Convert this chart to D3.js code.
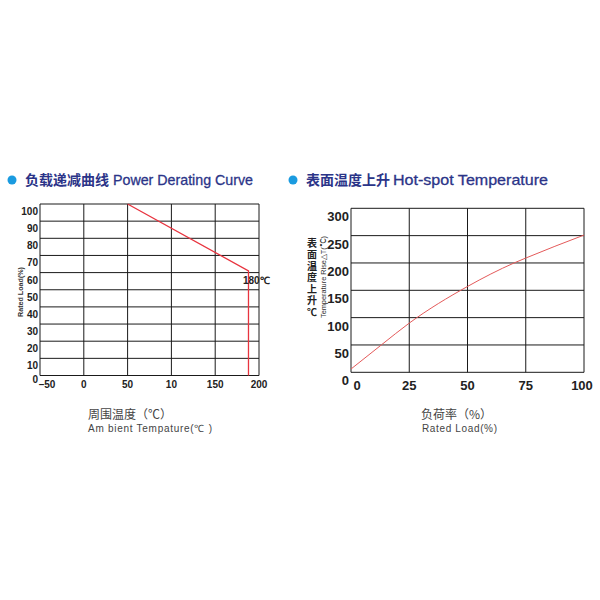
<!DOCTYPE html>
<html>
<head>
<meta charset="utf-8">
<script src="https://cdn.jsdelivr.net/npm/d3@7"></script>
<style>
  body { margin: 0; background: #fff; }
  svg text { font-family: "Liberation Sans", Arial, sans-serif; }
</style>
</head>
<body>
<svg id="chart" width="600" height="600"></svg>
<script>
// left chart: power derating
var deratingXTicks = [-50, 0, 50, 100, 150, 200];
var deratingXLabels = ["–50", "0", "50", "10", "150", "200"];
var deratingYTicks = [0, 10, 20, 30, 40, 50, 60, 70, 80, 90, 100];
var deratingCurve = [[50, 100], [188, 61], [188, 0]];
var deratingMark = "180℃";

// right chart: hot-spot temperature rise
var hotXTicks = [0, 25, 50, 75, 100];
var hotYTicks = [0, 50, 100, 150, 200, 250, 300];
var hotCurve = [[0, 6], [13, 50], [25, 90], [50, 157], [70, 200], [75, 209], [100, 251]];

var svg = d3.select("#chart");
var navy = "#2b3488";
var blue = "#1a9be0";

function drawTitle(x, cn, en, enX, enLen) {
    svg.append("circle").attr("cx", x).attr("cy", 180).attr("r", 4.5).attr("fill", blue);
    svg.append("text").attr("x", x + 13).attr("y", 185)
        .attr("font-size", 14).attr("font-weight", "bold").attr("fill", navy)
        .style("font-family", "'Noto Sans CJK SC', sans-serif").text(cn);
    svg.append("text").attr("x", enX).attr("y", 185)
        .attr("font-size", 15).attr("fill", navy)
        .attr("stroke", navy).attr("stroke-width", 0.3)
        .attr("textLength", enLen).attr("lengthAdjust", "spacingAndGlyphs").text(en);
}

drawTitle(12, "负载递减曲线", "Power Derating Curve", 113, 140);
drawTitle(293, "表面温度上升", "Hot-spot Temperature", 393, 155);

// ---------- left chart ----------
var x1 = d3.scaleLinear().domain([-50, 200]).range([40, 259]);
var y1 = d3.scaleLinear().domain([0, 100]).range([375.5, 204]);
var g1 = svg.append("g");

g1.selectAll("line.v").data(deratingXTicks).enter().append("line")
    .attr("x1", d => x1(d)).attr("x2", d => x1(d))
    .attr("y1", y1(0)).attr("y2", y1(100))
    .attr("stroke", "#1a1a1a").attr("stroke-width", 1);
g1.selectAll("line.h").data(deratingYTicks).enter().append("line")
    .attr("x1", x1(-50)).attr("x2", x1(200))
    .attr("y1", d => y1(d)).attr("y2", d => y1(d))
    .attr("stroke", "#1a1a1a").attr("stroke-width", 1);

g1.selectAll("text.yt").data(deratingYTicks).enter().append("text")
    .attr("x", 38).attr("y", d => d === 0 ? y1(d) + 7 : y1(d) + 11)
    .attr("text-anchor", "end").attr("font-size", 10).attr("font-weight", "bold")
    .attr("fill", "#222").text(d => d);

g1.selectAll("text.xt").data(deratingXTicks).enter().append("text")
    .attr("x", (d, i) => x1(d) + (i === 0 ? 7 : 0)).attr("y", 388)
    .attr("text-anchor", "middle").attr("font-size", 10).attr("font-weight", "bold")
    .attr("fill", "#222").text((d, i) => deratingXLabels[i]);

g1.append("text").attr("transform", "translate(23," + 292 + ") rotate(-90)")
    .attr("text-anchor", "middle").attr("font-size", 7).attr("font-weight", "bold")
    .attr("textLength", 50).attr("lengthAdjust", "spacingAndGlyphs")
    .attr("fill", "#333").text("Rated Load(%)");

g1.append("path").datum(deratingCurve)
    .attr("d", d3.line().x(d => x1(d[0])).y(d => y1(d[1])))
    .attr("fill", "none").attr("stroke", "#e8343f").attr("stroke-width", 1.3);

g1.append("text").attr("x", 243).attr("y", 284).attr("font-size", 10)
    .attr("font-weight", "bold").attr("fill", "#222").text(deratingMark);

svg.append("text").attr("x", 88).attr("y", 419).attr("font-size", 12).attr("fill", "#444")
    .style("font-family", "'Noto Sans CJK SC', sans-serif").text("周围温度（℃）");
svg.append("text").attr("x", 88).attr("y", 432).attr("font-size", 10).attr("fill", "#444")
    .attr("textLength", 124).attr("lengthAdjust", "spacing")
    .text("Am bient  Tempature(℃ )");

// ---------- right chart ----------
var x2 = d3.scaleLinear().domain([0, 100]).range([351, 584]);
var y2 = d3.scaleLinear().domain([0, 300]).range([372.3, 208.3]);
var g2 = svg.append("g");

g2.selectAll("line.v").data(hotXTicks).enter().append("line")
    .attr("x1", d => x2(d)).attr("x2", d => x2(d))
    .attr("y1", y2(0)).attr("y2", y2(300))
    .attr("stroke", "#1a1a1a").attr("stroke-width", 1);
g2.selectAll("line.h").data(hotYTicks).enter().append("line")
    .attr("x1", x2(0)).attr("x2", x2(100))
    .attr("y1", d => y2(d)).attr("y2", d => y2(d))
    .attr("stroke", "#1a1a1a").attr("stroke-width", 1);

g2.selectAll("text.yt").data(hotYTicks).enter().append("text")
    .attr("x", 349).attr("y", d => y2(d) + 13)
    .attr("text-anchor", "end").attr("font-size", 13).attr("font-weight", "bold")
    .attr("fill", "#222").text(d => d);

g2.selectAll("text.xt").data(hotXTicks).enter().append("text")
    .attr("x", (d, i) => x2(d) + (i === 0 ? 6 : (i === hotXTicks.length - 1 ? -2 : 0)))
    .attr("y", 390)
    .attr("text-anchor", "middle").attr("font-size", 13).attr("font-weight", "bold")
    .attr("fill", "#222").text(d => d);

// vertical chinese axis title, one text in vertical writing mode
g2.append("text").attr("x", 312).attr("y", 238)
    .style("writing-mode", "vertical-rl").style("letter-spacing", "1.5px")
    .attr("font-size", 10).attr("font-weight", "bold").attr("fill", "#222")
    .style("font-family", "'Noto Sans CJK SC', sans-serif").text("表面温度上升℃");

g2.append("text").attr("transform", "translate(326," + 277 + ") rotate(-90)")
    .attr("text-anchor", "middle").attr("font-size", 7.5)
    .attr("textLength", 82).attr("lengthAdjust", "spacingAndGlyphs")
    .attr("fill", "#333").text("Temperature  Rise△T(℃)");

g2.append("path").datum(hotCurve)
    .attr("d", d3.line().curve(d3.curveMonotoneX).x(d => x2(d[0])).y(d => y2(d[1])))
    .attr("fill", "none").attr("stroke", "#e45a5a").attr("stroke-width", 1);

svg.append("text").attr("x", 421).attr("y", 419).attr("font-size", 12).attr("fill", "#444")
    .style("font-family", "'Noto Sans CJK SC', sans-serif").text("负荷率（%）");
svg.append("text").attr("x", 422).attr("y", 432).attr("font-size", 10).attr("fill", "#444")
    .attr("textLength", 75).attr("lengthAdjust", "spacing")
    .text("Rated Load(%)");
</script>
</body>
</html>
